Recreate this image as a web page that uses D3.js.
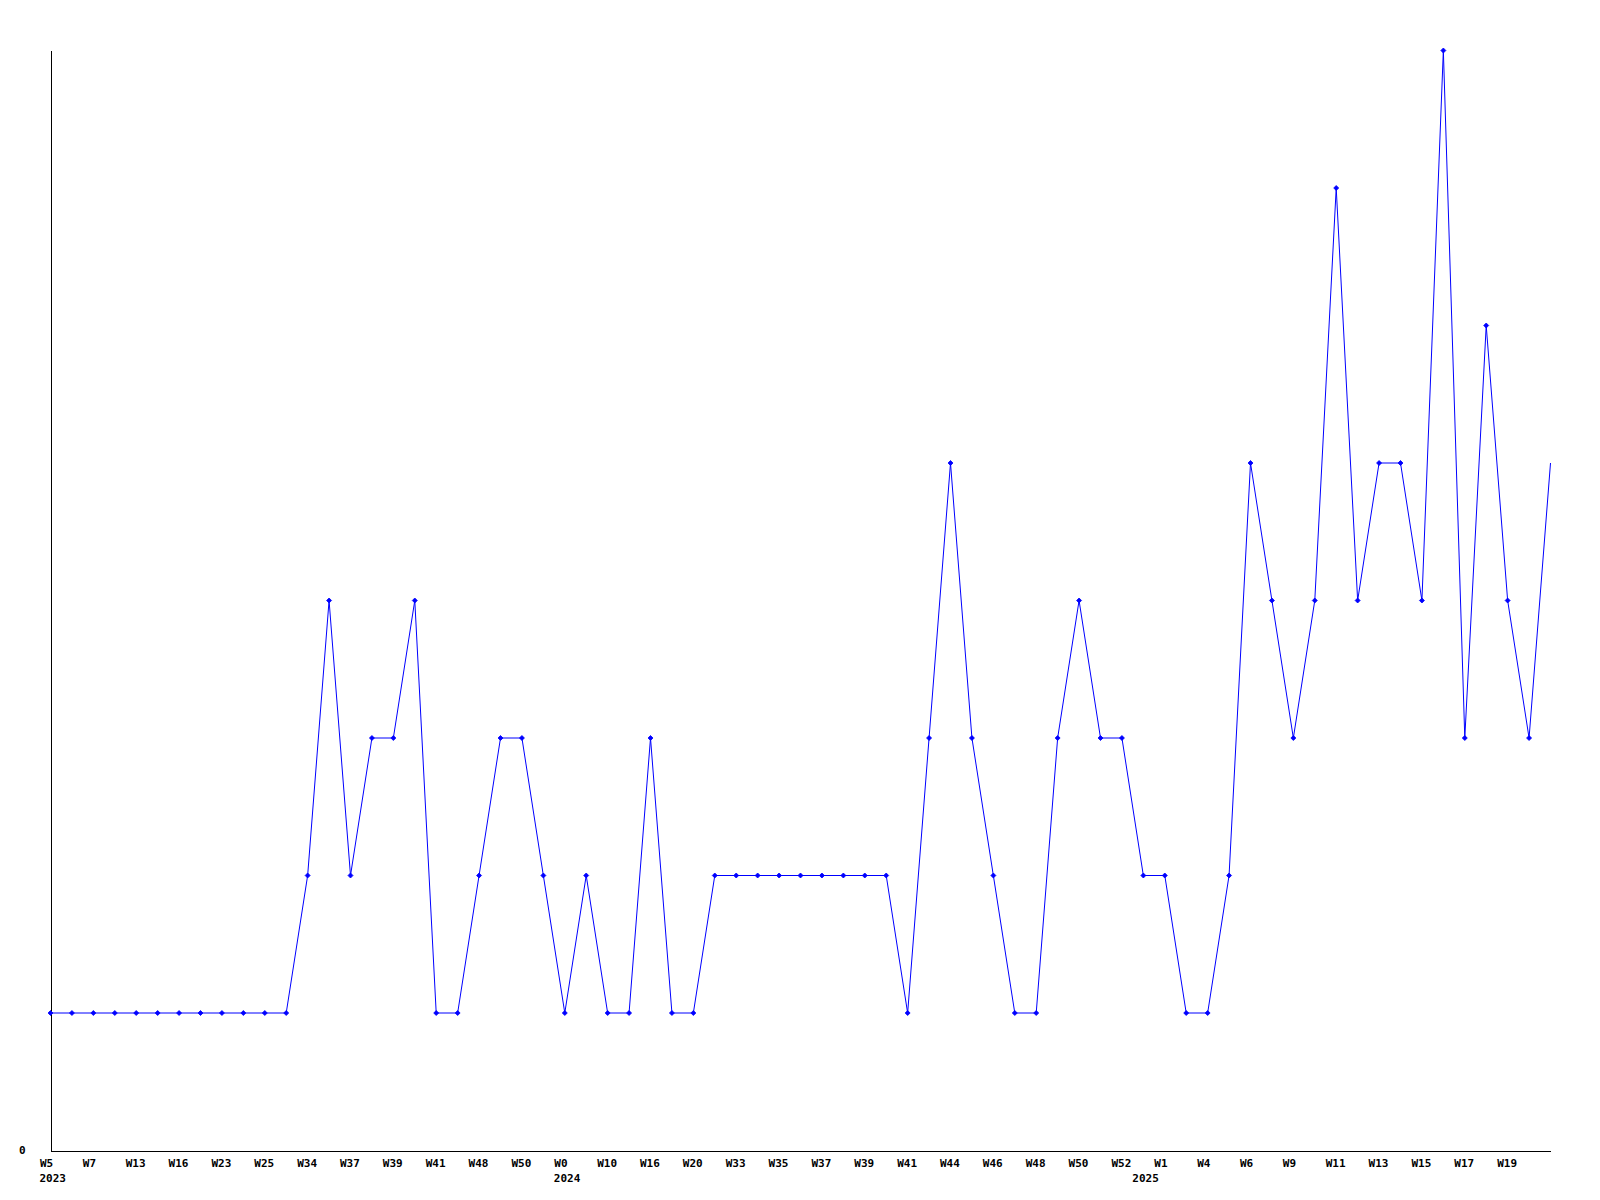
<!DOCTYPE html>
<html>
<head>
<meta charset="utf-8">
<script src="https://cdn.jsdelivr.net/npm/d3@7"></script>
<style>
  html, body { margin: 0; padding: 0; background: #ffffff; }
  svg { display: block; }
  text { font-family: "DejaVu Sans Mono", "Liberation Mono", monospace; font-weight: bold; font-size: 11px; fill: #000; }
</style>
</head>
<body>
<svg id="chart" width="1600" height="1200"></svg>
<script>
// Weekly counts, one per point (71 points)
const values = [
  1, 1, 1, 1, 1, 1, 1, 1, 1, 1, 1, 1,
  2, 4, 2, 3, 3, 4, 1, 1, 2, 3, 3, 2,
  1, 2, 1, 1, 3, 1, 1,
  2, 2, 2, 2, 2, 2, 2, 2, 2,
  1, 3, 5, 3, 2, 1, 1, 3, 4, 3, 3, 2, 2, 1, 1,
  2, 5, 4, 3, 4, 7, 4, 5, 5, 4, 8, 3, 6, 4, 3, 5
];

// Week tick labels, shown at every second point
const weekLabels = [
  "W5", "W7", "W13", "W16", "W23", "W25", "W34", "W37", "W39", "W41", "W48", "W50",
  "W0", "W10", "W16", "W20", "W33", "W35", "W37", "W39", "W41", "W44", "W46", "W48", "W50",
  "W52", "W1", "W4", "W6", "W9", "W11", "W13", "W15", "W17", "W19"
];

// Year labels and the point index where each year starts
const yearLabels = ["2023", "2024", "2025"];
const yearStarts = [0, 24, 51];

const yTicks = [0];

const svg = d3.select("#chart");
const mLeft = 50, mRight = 1550, mTop = 50, mBottom = 1150;

const x = d3.scaleLinear().domain([0, values.length - 1]).range([mLeft, mRight]);
const y = d3.scaleLinear().domain([0, 8]).range([mBottom, mTop]);

const g = svg.append("g").attr("transform", "translate(0.5,0.5)");

// Y axis (line + "0" label)
const yAxis = g.append("g")
  .attr("transform", `translate(${mLeft},0)`)
  .call(d3.axisLeft(y).tickValues(yTicks).tickSize(0).tickSizeOuter(0).tickPadding(25));
yAxis.select(".domain").attr("stroke", "#000").attr("shape-rendering", "crispEdges");
yAxis.selectAll("text")
  .style("font-family", "DejaVu Sans Mono, monospace")
  .style("font-weight", "bold")
  .style("font-size", "11px")
  .attr("dy", "0.3em");

// X axis (line + week labels)
const weekTickIdx = weekLabels.map((d, i) => i * 2);
const xAxis = g.append("g")
  .attr("transform", `translate(0,${mBottom})`)
  .call(d3.axisBottom(x)
    .tickValues(weekTickIdx)
    .tickFormat((d, i) => weekLabels[i])
    .tickSize(0).tickSizeOuter(0).tickPadding(0));
xAxis.select(".domain").attr("stroke", "#000").attr("shape-rendering", "crispEdges");
xAxis.selectAll("text")
  .attr("text-anchor", "start")
  .attr("x", -11)
  .attr("y", 16)
  .attr("dy", 0)
  .style("font-family", "DejaVu Sans Mono, monospace")
  .style("font-weight", "bold")
  .style("font-size", "11px");

// Year labels
g.append("g").selectAll("text")
  .data(yearLabels)
  .join("text")
  .attr("x", (d, i) => x(yearStarts[i]) - 11)
  .attr("y", mBottom + 31)
  .text(d => d);

// Line
const line = d3.line()
  .x((d, i) => x(i))
  .y(d => y(d));

g.append("path")
  .datum(values)
  .attr("fill", "none")
  .attr("stroke", "#0000ff")
  .attr("stroke-width", 1)
  .attr("d", line);

// Markers (last point drawn without marker, as in the reference)
const diamond = "M0,-2.5L2.5,0L0,2.5L-2.5,0Z";
g.append("g").selectAll("path")
  .data(values.slice(0, values.length - 1))
  .join("path")
  .attr("transform", (d, i) => `translate(${x(i)},${y(d)})`)
  .attr("d", diamond)
  .attr("fill", "#0000ff")
  .attr("stroke", "#0000ff")
  .attr("stroke-width", 0.8);
</script>
</body>
</html>
